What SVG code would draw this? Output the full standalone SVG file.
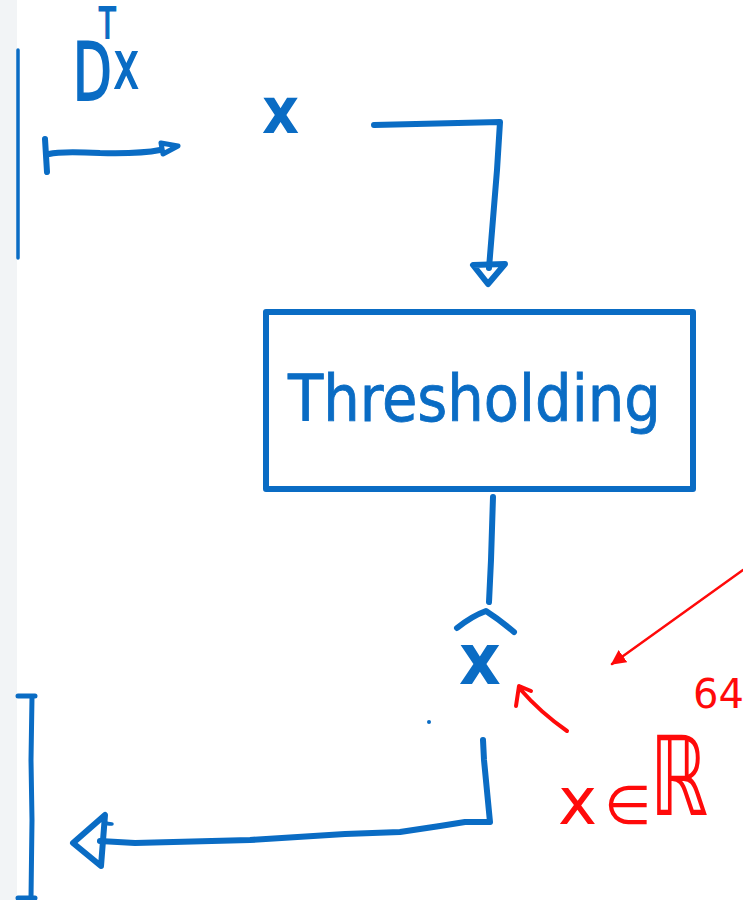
<svg xmlns="http://www.w3.org/2000/svg" width="743" height="900" viewBox="0 0 743 900">
  <defs>
    <style>
      .ink { fill: none; stroke: #0a6cc4; stroke-width: 6; stroke-linecap: round; stroke-linejoin: round; }
      .thin { fill: none; stroke: #0a6cc4; stroke-width: 3.5; stroke-linecap: round; stroke-linejoin: round; }
      .red { fill: none; stroke: #ff0a0a; stroke-width: 4; stroke-linecap: round; stroke-linejoin: round; }
      .blue-text { fill: #0a6cc4; font-family: "DejaVu Sans Condensed", "DejaVu Sans", sans-serif; }
      .red-text { fill: #ff0a0a; font-family: "DejaVu Sans", "Noto Sans", sans-serif; }
    </style>
    <marker id="redHead" viewBox="0 0 10 10" refX="9" refY="5" markerWidth="6" markerHeight="6" orient="auto" markerUnits="strokeWidth">
      <path d="M0,0 L10,5 L0,10 Z" fill="#ff0a0a"/>
    </marker>
  </defs>

  <!-- page background and left margin strip -->
  <rect x="0" y="0" width="743" height="900" fill="#ffffff"/>
  <rect x="0" y="0" width="17" height="900" fill="#f2f4f6"/>

  <!-- left matrix brackets -->
  <g id="left-bracket-top">
    <path class="thin" d="M18,50 L18,258"/>
  </g>
  <g id="left-bracket-bottom">
    <path class="ink" style="stroke-width:5" d="M18,696 L35,696 M32,697 L31,760 L32,820 L31,898 M18,898 L35,898"/>
  </g>

  <!-- D^T x label with input tick arrow -->
  <g id="label-dtx">
    <text class="blue-text" transform="translate(73,100) scale(0.7,1)" x="0" y="0" font-size="80" stroke="#0a6cc4" stroke-width="2">D<tspan dx="-18" dy="-62" font-size="42">T</tspan><tspan dx="-2" dy="50" font-size="66">x</tspan></text>
    <path class="ink" d="M45,139 L47,172 M49,154 Q60,151 100,153 Q140,154 160,150"/>
    <path class="ink" style="stroke-width:5" d="M161,143 L178,146 L163,154 Z"/>
  </g>

  <!-- input x -->
  <g id="input-x">
    <text class="blue-text" x="262" y="133" font-size="64" font-weight="bold">x</text>
  </g>

  <!-- thresholding block -->
  <g id="thresholding">
    <rect class="ink" x="266" y="312" width="427" height="177"/>
    <text class="blue-text" x="288" y="421" font-size="64" stroke="#0a6cc4" stroke-width="0.8">Thresholding</text>
  </g>

  <!-- estimate x-hat -->
  <g id="estimate-xhat">
    <text class="blue-text" x="459" y="684" font-size="72" font-weight="bold">x</text>
    <path class="ink" d="M457,628 Q472,616 486,611 Q500,620 514,632"/>
  </g>

  <!-- annotation: x in R^64 -->
  <g id="annotation">
    <path class="red" style="stroke-width:2.5" d="M743,570 L612,664" marker-end="url(#redHead)"/>
    <path class="red" d="M516,706 L519,686 L531,691 M521,690 Q540,712 567,731"/>
    <text class="red-text" x="558" y="824" font-size="66">x</text>
    <text class="red-text" x="604" y="824" font-size="54">∈</text>
    <text class="red-text" x="650" y="815" font-size="110" textLength="58" lengthAdjust="spacingAndGlyphs">ℝ</text>
    <text class="red-text" x="693" y="708" font-size="40">64</text>
  </g>

  <!-- connectors -->
  <g id="connectors">
    <path class="ink" d="M374,125 L500,122 L497,170 L489,268"/>
    <path class="ink" d="M473,265 L505,264 L488,284 Z"/>
    <path class="ink" d="M493,497 L491,560 L489,602"/>
    <circle cx="429" cy="722" r="2" fill="#0a6cc4"/>
    <path class="ink" d="M483,740 L484,760 L490,822 L465,822 L440,826 L400,832 L345,834 L250,840 L135,843 L100,841"/>
    <path class="ink" d="M73,843 L105,815 L101,866 Z"/>
    <path class="thin" d="M104,818 Q102,824 112,824"/>
  </g>
</svg>
